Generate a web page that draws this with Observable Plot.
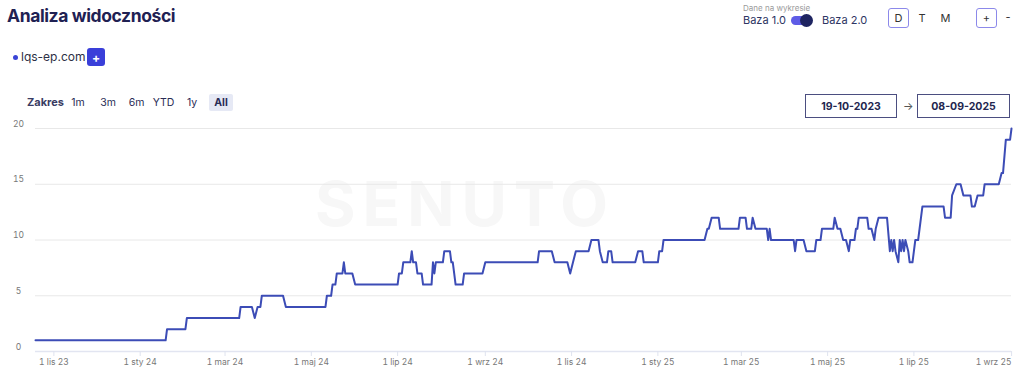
<!DOCTYPE html>
<html><head><meta charset="utf-8">
<script src="https://cdn.jsdelivr.net/npm/d3@7"></script>
<script src="https://cdn.jsdelivr.net/npm/@observablehq/plot@0.6"></script>
<style>
body{margin:0;background:#fff;font-family:Inter,"Noto Sans",sans-serif;}
#wrap{position:relative;width:1024px;height:380px;overflow:hidden;background:#fff;}
.abs{position:absolute;white-space:nowrap;}
.btn{position:absolute;font-size:10.5px;color:#2a2c55;top:96px;transform:translateX(-50%);}
.box{position:absolute;box-sizing:border-box;border:1.5px solid #4b4e80;font-size:10.5px;font-weight:700;color:#23264f;display:flex;align-items:center;justify-content:center;}
.sq{position:absolute;box-sizing:border-box;width:21px;height:20px;border:1.5px solid #8c89ea;border-radius:3px;font-size:11px;color:#333;display:flex;align-items:center;justify-content:center;}
#chart{position:absolute;left:0;top:110px;}
</style></head><body>
<div id="wrap">
  <div class="abs" style="left:7px;top:5px;font-size:17.5px;font-weight:700;color:#1f2153;letter-spacing:-0.4px">Analiza widoczności</div>

  <div class="abs" style="left:13px;top:55px;width:5px;height:5px;border-radius:50%;background:#3a44d6"></div>
  <div class="abs" style="left:21px;top:49px;font-size:12px;color:#2d2f45">lqs-ep.com</div>
  <div class="abs" style="left:87px;top:48px;width:18px;height:18px;border-radius:3px;background:#3a3fd9;color:#fff;font-weight:700;font-size:12px;display:flex;align-items:center;justify-content:center">+</div>

  <div class="abs" style="left:27px;top:95px;font-size:11px;font-weight:700;color:#3a3c63">Zakres</div>
  <div class="btn" style="left:78px">1m</div>
  <div class="btn" style="left:108px">3m</div>
  <div class="btn" style="left:136.5px">6m</div>
  <div class="btn" style="left:163.5px">YTD</div>
  <div class="btn" style="left:192px">1y</div>
  <div class="abs" style="left:209px;top:94px;width:24px;height:17px;border-radius:2px;background:#e6e9f5;font-size:10.5px;font-weight:700;color:#2a2c55;display:flex;align-items:center;justify-content:center">All</div>

  <div class="box" style="left:805px;top:94px;width:92px;height:24px">19-10-2023</div>
  <div class="abs" style="left:903px;top:99px;font-size:11px;color:#555">→</div>
  <div class="box" style="left:917px;top:94px;width:93px;height:24px">08-09-2025</div>

  <div class="abs" style="left:743px;top:3px;font-size:8px;color:#9a9a9a">Dane na wykresie</div>
  <div class="abs" style="left:743px;top:13px;font-size:11px;color:#2e3563">Baza 1.0</div>
  <div class="abs" style="left:791px;top:16px;width:20px;height:9px;border-radius:5px;background:#5e5ce6"></div>
  <div class="abs" style="left:800px;top:14px;width:13px;height:13px;border-radius:50%;background:#1e2461"></div>
  <div class="abs" style="left:822px;top:13px;font-size:11px;color:#2e3563">Baza 2.0</div>

  <div class="sq" style="left:888px;top:8px">D</div>
  <div class="abs" style="left:922px;top:11px;font-size:11px;color:#333;transform:translateX(-50%)">T</div>
  <div class="abs" style="left:945.5px;top:11px;font-size:11px;color:#333;transform:translateX(-50%)">M</div>
  <div class="sq" style="left:976px;top:8px">+</div>
  <div class="abs" style="left:1008px;top:10px;font-size:11px;color:#333;transform:translateX(-50%)">-</div>

  <div class="abs" style="left:465px;top:203px;transform:translate(-50%,-50%);font-size:62px;font-weight:700;color:#f7f7f7;letter-spacing:7px">SENUTO</div>
  <div id="chart"></div>
</div>
<script>
const startDate = "2023-10-19";
const endDate = "2025-09-08";

const dates = [
  "2023-10-19","2024-01-19","2024-01-20","2024-02-02","2024-02-03","2024-03-11","2024-03-12","2024-03-20",
  "2024-03-22","2024-03-24","2024-03-26","2024-03-27","2024-04-11","2024-04-13","2024-05-11","2024-05-12",
  "2024-05-15","2024-05-16","2024-05-18","2024-05-19","2024-05-23","2024-05-24","2024-05-25","2024-05-30",
  "2024-06-01","2024-07-01","2024-07-02","2024-07-04","2024-07-05","2024-07-10","2024-07-11","2024-07-12",
  "2024-07-14","2024-07-15","2024-07-18","2024-07-19","2024-07-25","2024-07-26","2024-07-27","2024-07-28",
  "2024-08-02","2024-08-03","2024-08-07","2024-08-08","2024-08-09","2024-08-10","2024-08-11","2024-08-16",
  "2024-08-17","2024-08-30","2024-09-01","2024-10-08","2024-10-09","2024-10-18","2024-10-20","2024-10-29",
  "2024-10-31","2024-11-02","2024-11-04","2024-11-13","2024-11-15","2024-11-20","2024-11-21","2024-11-23",
  "2024-11-26","2024-11-27","2024-11-29","2024-11-30","2024-12-16","2024-12-18","2024-12-21","2024-12-22",
  "2025-01-01","2025-01-02","2025-01-04","2025-01-05","2025-02-03","2025-02-05","2025-02-06","2025-02-08",
  "2025-02-13","2025-02-14","2025-02-27","2025-02-28","2025-03-04","2025-03-05","2025-03-08","2025-03-09",
  "2025-03-11","2025-03-19","2025-03-20","2025-03-21","2025-03-22","2025-04-07","2025-04-08","2025-04-09",
  "2025-04-14","2025-04-16","2025-04-22","2025-04-23","2025-04-26","2025-04-27","2025-05-05","2025-05-06",
  "2025-05-08","2025-05-10","2025-05-12","2025-05-14","2025-05-16","2025-05-17","2025-05-20","2025-05-21",
  "2025-05-22","2025-05-23","2025-05-29","2025-05-30","2025-06-01","2025-06-03","2025-06-04","2025-06-06",
  "2025-06-12","2025-06-14","2025-06-15","2025-06-16","2025-06-17","2025-06-18","2025-06-20","2025-06-21",
  "2025-06-22","2025-06-23","2025-06-24","2025-06-25","2025-06-27","2025-06-28","2025-06-30","2025-07-02",
  "2025-07-04","2025-07-07","2025-07-22","2025-07-23","2025-07-27","2025-07-28","2025-07-31","2025-08-03",
  "2025-08-05","2025-08-10","2025-08-11","2025-08-13","2025-08-15","2025-08-19","2025-08-20","2025-08-30",
  "2025-09-01","2025-09-02","2025-09-04","2025-09-07","2025-09-08"
];
const values = [
  1,1,2,2,3,3,4,4,
  3,4,4,5,5,4,4,5,
  5,6,6,7,7,8,7,7,
  6,6,7,7,8,8,9,8,
  8,7,7,6,6,8,7,8,
  8,9,9,8,8,7,6,6,
  7,7,8,8,9,9,8,8,
  7,8,9,9,10,10,9,8,
  8,9,9,8,8,9,9,8,
  8,9,9,10,10,11,11,12,
  12,11,11,12,12,11,11,12,
  11,11,10,11,10,10,9,10,
  10,9,9,10,10,11,11,12,
  11,11,10,10,9,10,10,11,
  11,12,12,11,11,10,11,12,
  12,9,10,9,10,9,8,10,
  9,10,9,10,9,8,8,10,
  10,13,13,12,12,14,15,15,
  14,14,13,13,14,14,15,15,
  16,16,19,19,20
];

const yTicks = [0, 5, 10, 15, 20];
const xTickDates = ["2023-11-01","2024-01-01","2024-03-01","2024-05-01","2024-07-01","2024-09-01",
                    "2024-11-01","2025-01-01","2025-03-01","2025-05-01","2025-07-01","2025-09-01"];
const xTickLabels = ["1 lis 23","1 sty 24","1 mar 24","1 maj 24","1 lip 24","1 wrz 24",
                     "1 lis 24","1 sty 25","1 mar 25","1 maj 25","1 lip 25","1 wrz 25"];

const parse = s => new Date(s + "T00:00:00Z");
const data = dates.map((d, i) => ({date: parse(d), value: values[i]}));
const tickDates = xTickDates.map(parse);
const labelMap = new Map(tickDates.map((d, i) => [+d, xTickLabels[i]]));
const mainTicks = tickDates.slice(0, -1);
const lastTick = tickDates.slice(-1);

const chart = Plot.plot({
  width: 1024,
  height: 270,
  marginTop: 18,
  marginBottom: 29,
  marginLeft: 35,
  marginRight: 13,
  style: {background: "transparent", color: "#777", fontFamily: "Inter, 'Noto Sans', sans-serif", overflow: "visible"},
  x: {type: "utc", domain: [parse(startDate), parse(endDate)]},
  y: {domain: [0, 20]},
  marks: [
    Plot.gridY(yTicks.filter(t => t > 0), {stroke: "#e8e8e8", strokeOpacity: 1}),
    Plot.ruleY([0], {stroke: "#e2e5f1", strokeWidth: 1.6}),
    Plot.axisY(yTicks, {tickSize: 0, tickPadding: 17, textAnchor: "middle", dy: -4.5, fontSize: 8.5, fill: "#777", label: null}),
    Plot.axisX(mainTicks, {tickSize: 5, tickPadding: 2.5, stroke: "#dfe3ef", fill: "#777", fontSize: 8.5,
      tickFormat: d => labelMap.get(+d), label: null}),
    Plot.axisX(lastTick, {tickSize: 5, tickPadding: 2.5, stroke: "#dfe3ef", fill: "#777", fontSize: 8.5,
      textAnchor: "end", dx: 10, tickFormat: d => labelMap.get(+d), label: null}),
    Plot.line(data, {x: "date", y: "value", stroke: "#3c4cb6", strokeWidth: 2, strokeLinejoin: "round"})
  ]
});
document.getElementById("chart").appendChild(chart);
</script>
</body></html>
